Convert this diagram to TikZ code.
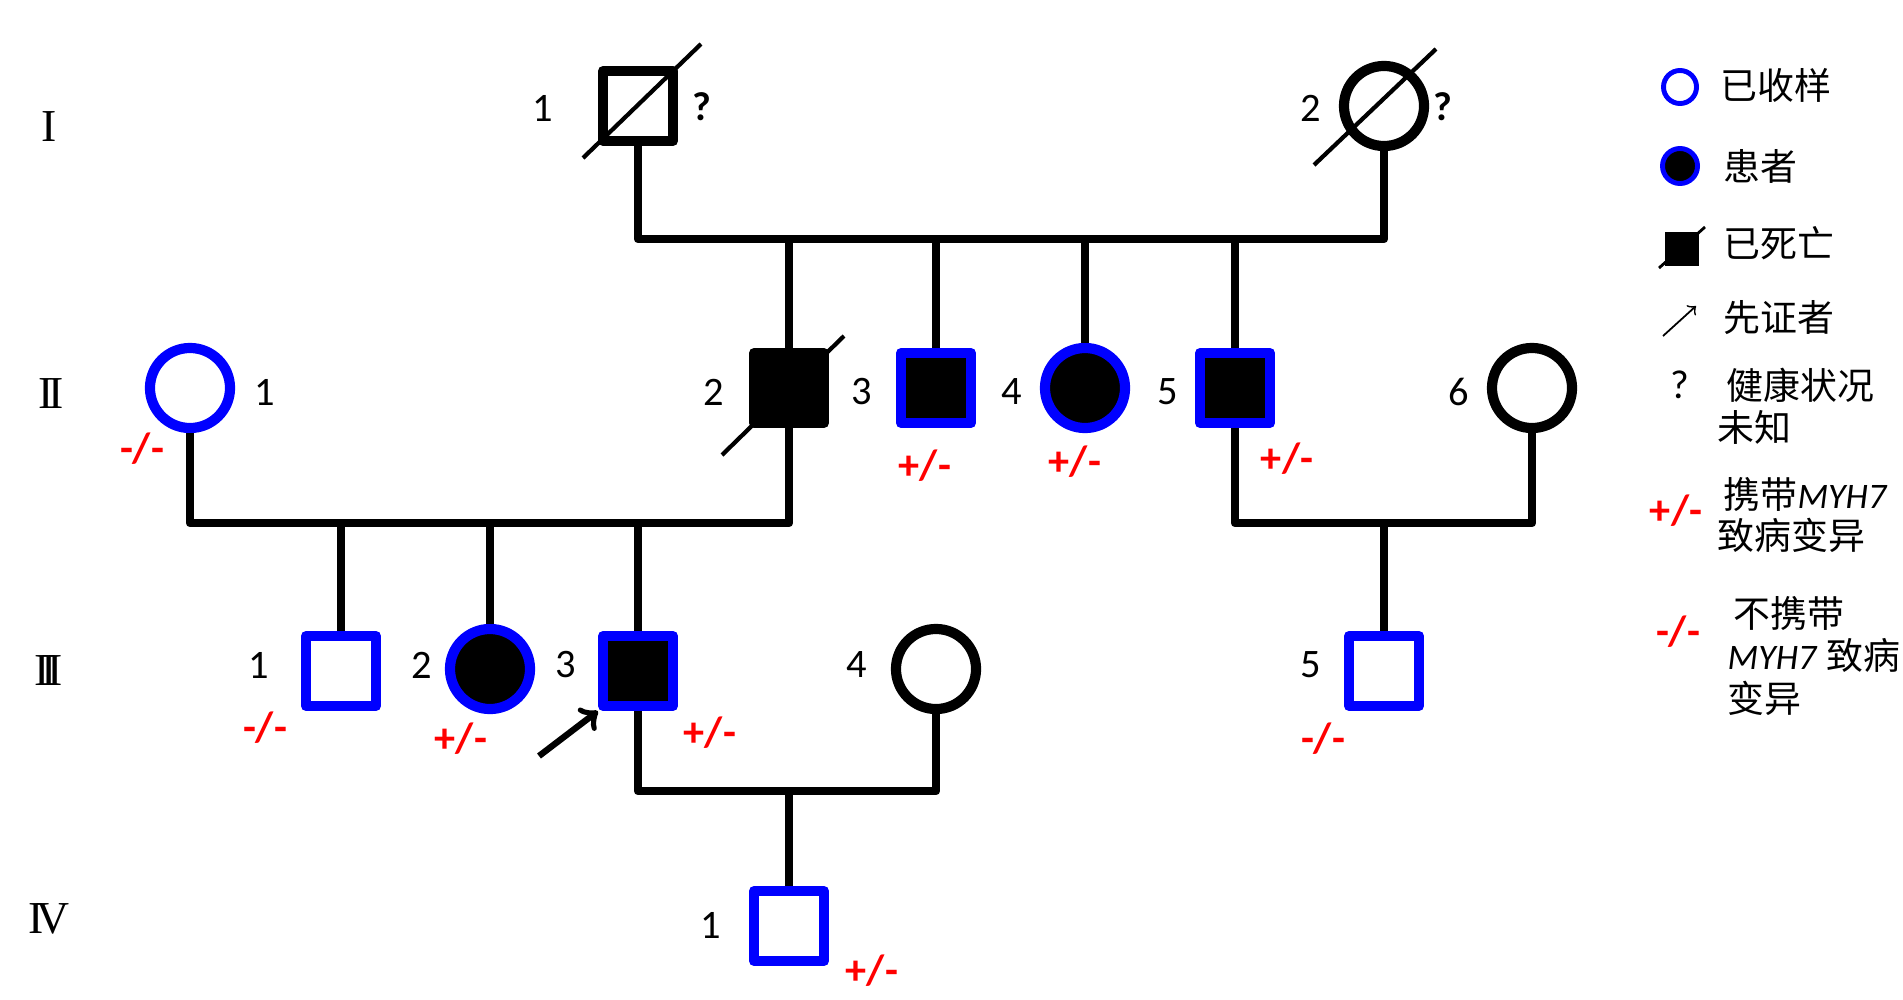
\documentclass[tikz,border=0pt]{standalone}
\usepackage{fontspec}
\setmainfont{Carlito}
\newfontfamily\cjk{Noto Sans CJK SC}
\newfontfamily\romfont{Liberation Serif}
\definecolor{sampblue}{RGB}{0,0,255}
\definecolor{genred}{RGB}{255,0,0}

\tikzset{
  link/.style={line width=2.4pt, line join=round},
  male/.style={rectangle, draw, fill=white, minimum size=0.7cm, inner sep=0pt, line width=2.9pt, line join=round},
  female/.style={circle, draw, fill=white, minimum size=0.8cm, inner sep=0pt, line width=2.9pt},
  sampled/.style={draw=sampblue},
  affected/.style={fill=black},
  deadline/.style={line width=1.2pt},
  num/.style={font=\fontsize{11.5}{13}\selectfont},
  ques/.style={font=\fontsize{11.5}{13}\selectfont\bfseries},
  gen/.style={font=\fontsize{12}{14}\selectfont\bfseries, text=genred},
  rom/.style={font=\fontsize{13}{15}\selectfont\romfont},
  legtext/.style={font=\fontsize{10.5}{12}\selectfont\cjk, anchor=west, inner sep=0pt},
}
\newcommand{\genename}{{\rmfamily\itshape\fontsize{10.2}{12}\selectfont MYH7}}

\begin{document}
\begin{tikzpicture}[x=0.01cm, y=-0.01cm]

  \useasboundingbox (0,0) rectangle (1903,1000);

  % generations
  \node[rom] (g1) at (49,127) {I};
  \node[rom] (g2) at (51,394) {I\kern-1.5pt I};
  \node[rom] (g3) at (49,671) {I\kern-2.5pt I\kern-2.5pt I};
  \node[rom] (g4) at (49,919) {I\kern-2pt V};

  % persons
  \node[male] (i1) at (638,106) {};
  \node[female] (i2) at (1384,106) {};

  \node[female, sampled] (ii1) at (190,388) {};
  \node[male, fill=black] (ii2) at (789,388) {};
  \node[male, sampled, affected] (ii3) at (936,388) {};
  \node[female, sampled, affected] (ii4) at (1085,388) {};
  \node[male, sampled, affected] (ii5) at (1235,388) {};
  \node[female] (ii6) at (1532,388) {};

  \node[male, sampled] (iii1) at (341,671) {};
  \node[female, sampled, affected] (iii2) at (490,669) {};
  \node[male, sampled, affected] (iii3) at (638,671) {};
  \node[female] (iii4) at (936,669) {};
  \node[male, sampled] (iii5) at (1384,671) {};

  \node[male, sampled] (iv1) at (789,926) {};

  % lines of descent
  \coordinate (s1) at (0,239);
  \coordinate (s2) at (0,523);
  \coordinate (s3) at (0,791);

  \draw[link] (i1.south) -- (i1 |- s1) -- (i2 |- s1) -- (i2.south);
  \foreach \c in {ii2,ii3,ii4,ii5}
    \draw[link] (\c.north) -- (\c |- s1);

  \draw[link] (ii1.south) -- (ii1 |- s2) -- (ii2 |- s2) -- (ii2.south);
  \foreach \c in {iii1,iii2,iii3}
    \draw[link] (\c.north) -- (\c |- s2);

  \draw[link] (ii5.south) -- (ii5 |- s2) -- (ii6 |- s2) -- (ii6.south);
  \draw[link] (iii5.north) -- (iii5 |- s2);

  \draw[link] (iii3.south) -- (iii3 |- s3) -- (iii4 |- s3) -- (iii4.south);
  \draw[link] (iv1.north) -- (iv1 |- s3);

  % deceased
  \draw[deadline] (i1.center) +(-55,52) -- +(63,-62);
  \draw[deadline] (i2.center) +(-70,59) -- +(52,-57);
  \draw[deadline] (ii2.center) +(-67,67) -- +(55,-52);

  % proband
  \coordinate (pb) at (539,756);
  \draw[->, line width=1.8pt] (pb) -- (iii3.south west);

  % numbers
  \node[num] (n-i1) at (543,108) {1};
  \node[num] (n-i2) at (1311,108) {2};
  \node[ques] (q-i1) at (702,107) {?};
  \node[ques] (q-i2) at (1443,107) {?};

  \node[num] (n-ii1) at (265,392) {1};
  \node[num] (n-ii2) at (714,392) {2};
  \node[num] (n-ii3) at (862,392) {3};
  \node[num] (n-ii4) at (1012,392) {4};
  \node[num] (n-ii5) at (1168,392) {5};
  \node[num] (n-ii6) at (1459,392) {6};

  \node[num] (n-iii1) at (259,665) {1};
  \node[num] (n-iii2) at (422,665) {2};
  \node[num] (n-iii3) at (566,665) {3};
  \node[num] (n-iii4) at (857,665) {4};
  \node[num] (n-iii5) at (1311,665) {5};

  \node[num] (n-iv1) at (711,925) {1};

  % genotypes
  \node[gen] (t-ii1) at (142,449) {-/-};
  \node[gen] (t-ii3) at (925,466) {+/-};
  \node[gen] (t-ii4) at (1075,462) {+/-};
  \node[gen] (t-ii5) at (1287,459) {+/-};
  \node[gen] (t-iii1) at (265,728) {-/-};
  \node[gen] (t-iii2) at (461,739) {+/-};
  \node[gen] (t-iii3) at (710,733) {+/-};
  \node[gen] (t-iii5) at (1323,739) {-/-};
  \node[gen] (t-iv1) at (872,971) {+/-};

  % legend
  \node[female, sampled, minimum size=0.33cm, line width=1.4pt] (lg1) at (1680,87) {};
  \node[legtext] (lt1) at (1720,85) {已收样};

  \node[female, sampled, affected, minimum size=0.35cm, line width=1.4pt] (lg2) at (1680,166) {};
  \node[legtext] (lt2) at (1723,166) {患者};

  \node[rectangle, fill=black, minimum size=0.34cm, inner sep=0pt] (lg3) at (1682,249) {};
  \draw[line width=0.8pt] (lg3.center) +(-23,19) -- +(23,-22);
  \node[legtext] (lt3) at (1723,243) {已死亡};

  \coordinate (la1) at (1663,336);
  \coordinate (la2) at (1696,306);
  \draw[->, line width=0.5pt] (la1) -- (la2);
  \node[legtext] (lt4) at (1723,318) {先证者};

  \node[num] (lq) at (1680,385) {?};
  \node[legtext] (lt5) at (1726,385) {健康状况};
  \node[legtext] (lt6) at (1717,427) {未知};

  \node[gen] (lp) at (1676,511) {+/-};
  \node[legtext] (lt7) at (1723,494) {携带\genename};
  \node[legtext] (lt8) at (1717,535) {致病变异};

  \node[gen] (lm) at (1678,632) {-/-};
  \node[legtext] (lt9) at (1733,613) {不携带};
  \node[legtext] (lt10) at (1727,655) {\genename\kern3pt 致病};
  \node[legtext] (lt11) at (1727,698) {变异};

\end{tikzpicture}
\end{document}
